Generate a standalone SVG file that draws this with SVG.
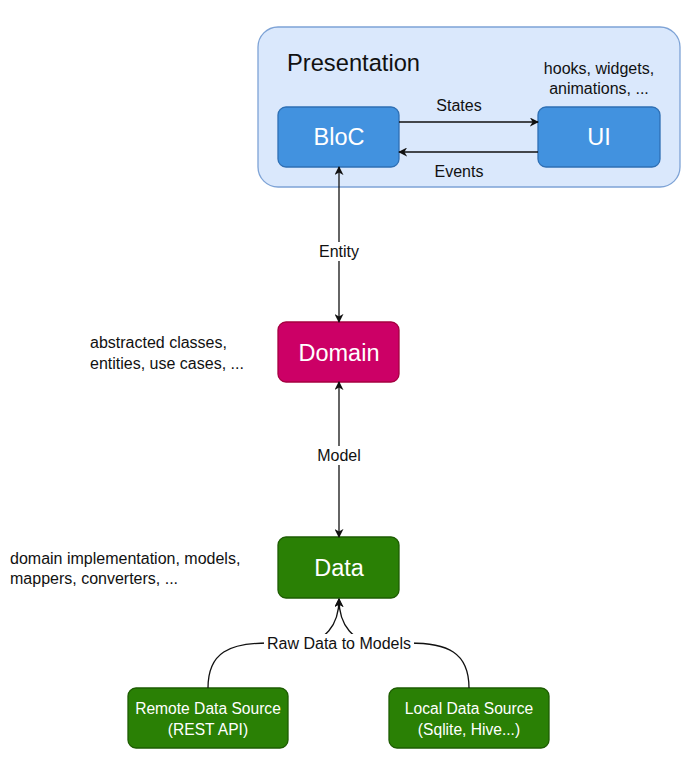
<svg xmlns="http://www.w3.org/2000/svg" width="689" height="771" viewBox="0 0 689 771">
<style>
text{font-family:"Liberation Sans",Arial,Helvetica,sans-serif;}
.lbl{font-size:16px;fill:#111;}
.node{font-size:23.5px;fill:#fff;text-anchor:middle;}
.small{font-size:15.6px;fill:#fff;text-anchor:middle;}
.edge{fill:none;stroke:#111;stroke-width:1.3;}
.blue{fill:#4292df;stroke:#2e6fb4;stroke-width:1.3;}
.green{fill:#2a8005;stroke:#1d5c02;stroke-width:1.3;}
</style>
<defs>
<marker id="arr" viewBox="0 0 10 10" refX="9" refY="5" markerWidth="9" markerHeight="9" markerUnits="userSpaceOnUse" orient="auto-start-reverse">
<path d="M0,0 L10,5 L0,10 L3,5 Z" fill="#111"/>
</marker>
</defs>
<g id="presentation">
<rect x="258" y="27" width="422" height="160" rx="20" fill="#dae8fc" stroke="#7ea3d6" stroke-width="1.3"/>
<text x="287" y="71" font-size="23.7" fill="#111">Presentation</text>
<text x="599" y="74" class="lbl" text-anchor="middle">hooks, widgets,</text>
<text x="599" y="94" class="lbl" text-anchor="middle">animations, ...</text>
</g>
<g id="bloc">
<rect x="278" y="107" width="121" height="60" rx="8" class="blue"/>
<text x="339" y="145" class="node">BloC</text>
</g>
<g id="ui">
<rect x="538" y="107" width="122" height="60" rx="8" class="blue"/>
<text x="599" y="145" class="node">UI</text>
</g>
<g id="domain">
<rect x="278" y="322" width="121" height="60" rx="8" fill="#cc0066" stroke="#a50040" stroke-width="1.3"/>
<text x="339" y="361" class="node">Domain</text>
<text x="90" y="348" class="lbl">abstracted classes,</text>
<text x="90" y="369" class="lbl">entities, use cases, ...</text>
</g>
<g id="data">
<rect x="278" y="537" width="121" height="61" rx="8" class="green"/>
<text x="339" y="576" class="node">Data</text>
<text x="10" y="564" class="lbl">domain implementation, models,</text>
<text x="10" y="584" class="lbl">mappers, converters, ...</text>
</g>
<g id="remote">
<rect x="128" y="688" width="160" height="60" rx="8" class="green"/>
<text x="208" y="714" class="small">Remote Data Source</text>
<text x="208" y="735" class="small">(REST API)</text>
</g>
<g id="local">
<rect x="389" y="688" width="160" height="60" rx="8" class="green"/>
<text x="469" y="714" class="small">Local Data Source</text>
<text x="469" y="735" class="small">(Sqlite, Hive...)</text>
</g>
<g id="connectors">
<line x1="399" y1="122" x2="538" y2="122" class="edge" marker-end="url(#arr)"/>
<text x="459" y="111" class="lbl" text-anchor="middle">States</text>
<line x1="538" y1="152" x2="399" y2="152" class="edge" marker-end="url(#arr)"/>
<text x="459" y="177" class="lbl" text-anchor="middle">Events</text>
<line x1="339" y1="167" x2="339" y2="322" class="edge" marker-start="url(#arr)" marker-end="url(#arr)"/>
<rect x="314" y="242" width="50" height="19" fill="#fff"/>
<text x="339" y="257" class="lbl" text-anchor="middle">Entity</text>
<line x1="339" y1="382" x2="339" y2="537" class="edge" marker-start="url(#arr)" marker-end="url(#arr)"/>
<rect x="312" y="446" width="54" height="19" fill="#fff"/>
<text x="339" y="461" class="lbl" text-anchor="middle">Model</text>
<path d="M208,688 C208,652 230,643 268,643 L300,643 C325,643 339,625 339,599" class="edge" marker-end="url(#arr)"/>
<path d="M469,688 C469,652 447,643 409,643 L378,643 C353,643 339,625 339,599" class="edge" marker-end="url(#arr)"/>
<rect x="264" y="634" width="150" height="18" fill="#fff"/>
<text x="339" y="649" class="lbl" text-anchor="middle">Raw Data to Models</text>
</g>
</svg>
